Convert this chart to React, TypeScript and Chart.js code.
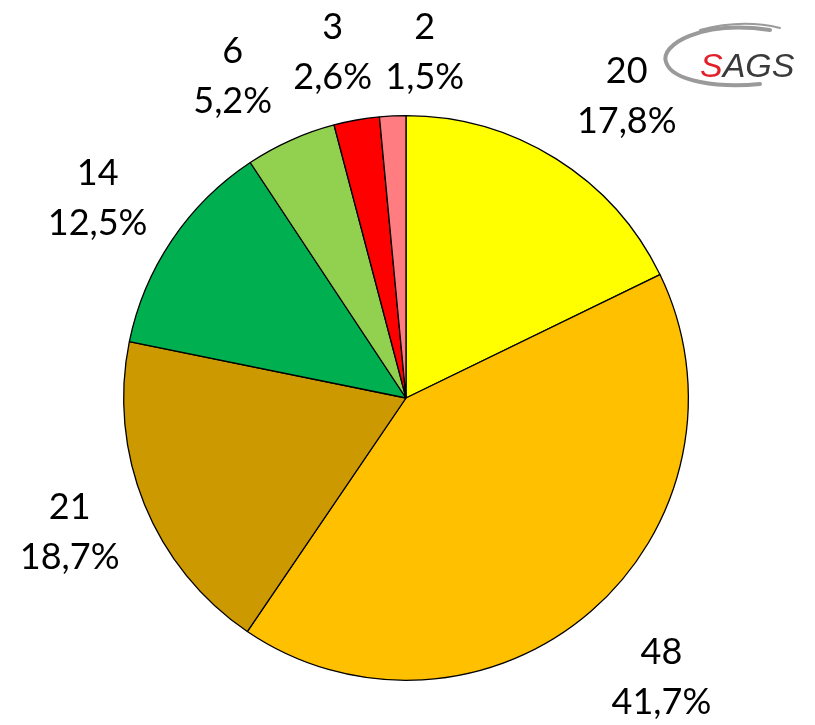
import React, { useEffect, useRef } from "react";
import { Chart, registerables } from "chart.js";

Chart.register(...registerables);

const counts = [20, 48, 21, 14, 6, 3, 2];
const percents = [17.8, 41.7, 18.7, 12.5, 5.2, 2.6, 1.5];
const colors = ["#FFFF00", "#FFC000", "#CC9900", "#00B050", "#92D050", "#FF0000", "#FF7C80"];

// label placement tweaks (degrees / px beyond outer radius), mimicking Excel's best-fit
const labelAngleNudge = [4.2, -1.6, 0.3, -1.1, -4.2, -1.9, 5.8];
const labelDistance = [91, 96, 80, 85, 83, 71, 64];

const fmt = (v: number) => v.toFixed(1).replace(".", ",") + "%";

const labelPlugin = {
  id: "outsideLabels",
  afterDraw(chart: any) {
    const ctx = chart.ctx;
    const meta = chart.getDatasetMeta(0);
    ctx.save();
    ctx.font = "36px Lato";
    ctx.fillStyle = "#000";
    ctx.textAlign = "center";
    ctx.textBaseline = "middle";
    meta.data.forEach((arc: any, i: number) => {
      const { x, y, startAngle, endAngle, outerRadius } = arc.getProps(
        ["x", "y", "startAngle", "endAngle", "outerRadius"],
        true
      );
      const a = (startAngle + endAngle) / 2 + (labelAngleNudge[i] * Math.PI) / 180;
      const d = outerRadius + labelDistance[i];
      const cx = x + Math.cos(a) * d;
      const cy = y + Math.sin(a) * d;
      ctx.fillText(String(counts[i]), cx, cy - 25);
      ctx.fillText(fmt(percents[i]), cx, cy + 25);
    });
    ctx.restore();

    // SAGS logo
    ctx.save();
    ctx.strokeStyle = "#9a9a9a";
    ctx.lineWidth = 4;
    ctx.lineCap = "round";
    ctx.beginPath();
    ctx.moveTo(770, 30);
    ctx.bezierCurveTo(700, 20, 660, 45, 666, 62);
    ctx.bezierCurveTo(672, 82, 720, 88, 760, 84);
    ctx.stroke();
    ctx.lineWidth = 2;
    ctx.beginPath();
    ctx.moveTo(700, 30);
    ctx.bezierCurveTo(730, 22, 755, 22, 780, 28);
    ctx.stroke();
    ctx.font = "italic 34px 'Liberation Sans'";
    ctx.textAlign = "left";
    ctx.textBaseline = "alphabetic";
    ctx.fillStyle = "#E2202A";
    ctx.fillText("S", 700, 77);
    const w = ctx.measureText("S").width;
    ctx.fillStyle = "#3a3a3a";
    ctx.fillText("AGS", 700 + w, 77);
    ctx.restore();
  },
};

export default function App() {
  const ref = useRef<HTMLCanvasElement>(null);
  useEffect(() => {
    document.body.style.margin = "0";
    const chart = new Chart(ref.current!, {
      type: "pie",
      data: {
        labels: counts.map(String),
        datasets: [
          {
            data: percents,
            backgroundColor: colors,
            borderColor: "#000",
            borderWidth: 1.3,
          },
        ],
      },
      options: {
        animation: false,
        responsive: false,
        layout: { padding: { left: 123, right: 126, top: 114, bottom: 43 } },
        plugins: { legend: { display: false }, tooltip: { enabled: false } },
      },
      plugins: [labelPlugin],
    });
    return () => chart.destroy();
  }, []);
  return (
    <div style={{ width: 815, height: 725, background: "#fff" }}>
      <canvas ref={ref} width={815} height={725} />
    </div>
  );
}
